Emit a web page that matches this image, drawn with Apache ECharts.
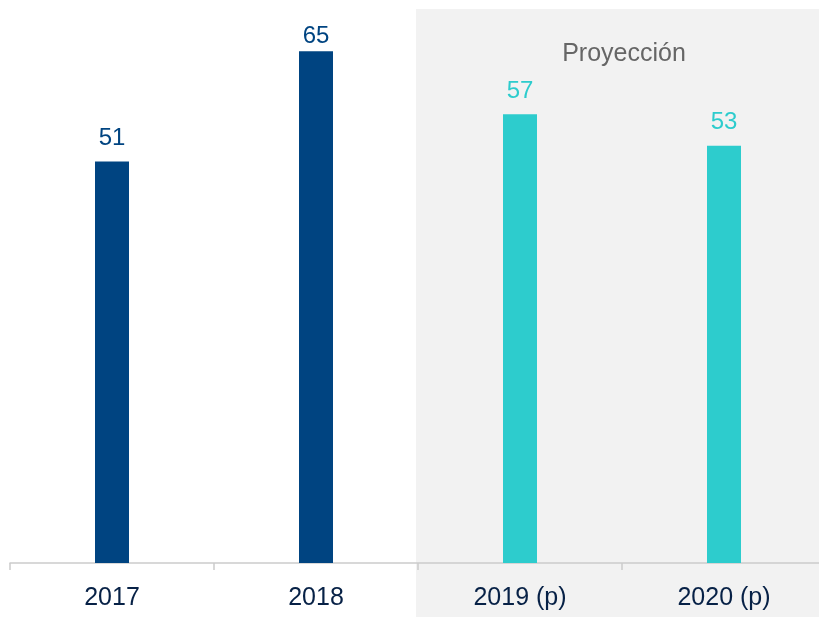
<!DOCTYPE html>
<html>
<head>
<meta charset="utf-8">
<script src="https://cdn.jsdelivr.net/npm/echarts@6/dist/echarts.min.js"></script>
<style>
  html, body { margin: 0; padding: 0; background: #fff; }
  #chart { width: 819px; height: 617px; }
</style>
</head>
<body>
<div id="chart"></div>
<script>
const years = ['2017', '2018', '2019 (p)', '2020 (p)']
const values = [51, 65, 57, 53]
const projected = [false, false, true, true]
const bandLabel = 'Proyección'

const DARK = '#004481'
const AQUA = '#2dcccd'
const FONT = 'Liberation Sans, Arial, sans-serif'

const chart = echarts.init(document.getElementById('chart'))

chart.setOption({
  animation: false,
  grid: { left: 10, width: 816, top: 12, bottom: 54, outerBoundsMode: 'none' },
  graphic: [
    {
      type: 'rect',
      z: -10,
      silent: true,
      shape: { x: 416, y: 9, width: 410, height: 620 },
      style: { fill: '#f2f2f2' }
    },
    {
      type: 'text',
      z: 10,
      silent: true,
      x: 624,
      y: 54,
      style: {
        text: bandLabel,
        fill: '#666666',
        font: '25px ' + FONT,
        textAlign: 'center',
        textVerticalAlign: 'middle'
      }
    }
  ],
  xAxis: {
    type: 'category',
    data: years,
    axisLine: { lineStyle: { color: '#cccccc', width: 1.5 } },
    axisTick: { show: true, interval: 0, length: 7, lineStyle: { color: '#cccccc', width: 1.5 } },
    axisLabel: { color: '#072146', fontSize: 25, fontFamily: FONT, margin: 23 }
  },
  yAxis: {
    type: 'value',
    min: 0,
    max: 70,
    show: false,
    splitLine: { show: false }
  },
  series: [
    {
      type: 'bar',
      data: values,
      barWidth: 34,
      itemStyle: {
        color: p => projected[p.dataIndex] ? AQUA : DARK
      },
      label: {
        show: true,
        position: 'top',
        distance: 11,
        fontSize: 24,
        fontFamily: FONT,
        color: 'inherit'
      },
      // keep the tallest label from crowding the top edge
      labelLayout: p => (p.labelRect.y < 22 ? { dy: 8 } : {})
    }
  ]
})
</script>
</body>
</html>
